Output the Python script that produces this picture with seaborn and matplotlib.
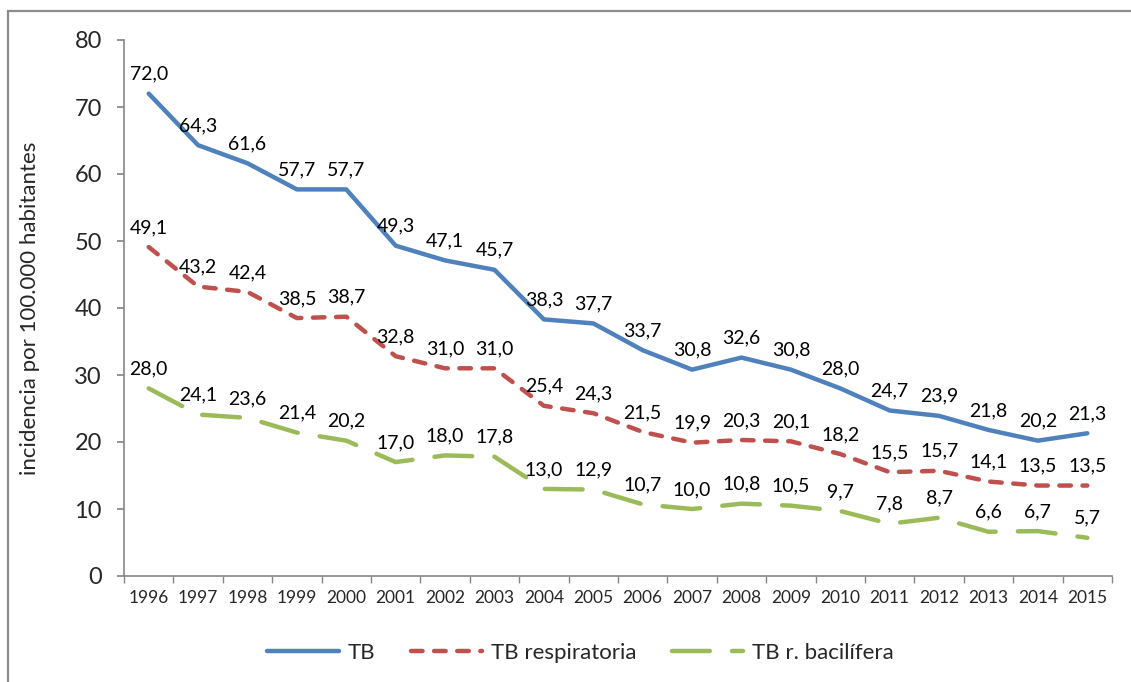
import matplotlib
matplotlib.use("Agg")
import matplotlib.pyplot as plt
import seaborn as sns
import pandas as pd
from matplotlib.patches import Rectangle

years = list(range(1996, 2016))
tb = [72.0, 64.3, 61.6, 57.7, 57.7, 49.3, 47.1, 45.7, 38.3, 37.7, 33.7, 30.8, 32.6, 30.8, 28.0, 24.7, 23.9, 21.8, 20.2, 21.3]
tb_resp = [49.1, 43.2, 42.4, 38.5, 38.7, 32.8, 31.0, 31.0, 25.4, 24.3, 21.5, 19.9, 20.3, 20.1, 18.2, 15.5, 15.7, 14.1, 13.5, 13.5]
tb_bac = [28.0, 24.1, 23.6, 21.4, 20.2, 17.0, 18.0, 17.8, 13.0, 12.9, 10.7, 10.0, 10.8, 10.5, 9.7, 7.8, 8.7, 6.6, 6.7, 5.7]
series_names = ["TB", "TB respiratoria", "TB r. bacilífera"]
ylabel = "incidencia por 100.000 habitantes"

sns.set_theme(style="white")
plt.rcParams['font.family'] = ['Lato', 'DejaVu Sans']

W, H = 1131, 682
fig = plt.figure(figsize=(W / 100, H / 100), dpi=100)
ax = fig.add_axes([124 / W, 1 - 576 / H, (1112 - 124) / W, (576 - 40) / H])

idx = list(range(len(years)))
df = pd.DataFrame({"i": idx, "TB": tb, "TB respiratoria": tb_resp, "TB r. bacilífera": tb_bac})

colors = ["#4F81BD", "#C0504D", "#9BBB59"]
dashes = [None, (2.6, 2.6), (8.5, 5.0)]
for name, col, dsh in zip(series_names, colors, dashes):
    sns.lineplot(data=df, x="i", y=name, ax=ax, color=col, linewidth=3.2, label=name)
    line = ax.lines[-1]
    line.set_solid_capstyle("round")
    line.set_dash_capstyle("round")
    if dsh is not None:
        line.set_dashes(dsh)
    for i, v in zip(idx, df[name]):
        ax.annotate(f"{v:.1f}".replace(".", ","), (i, v), xytext=(0, 11),
                    textcoords="offset pixels", ha="center", va="bottom",
                    fontsize=14, color="#000000")

ax.set_xlim(-0.5, len(years) - 0.5)
ax.set_ylim(0, 80)
ax.set_yticks(range(0, 81, 10))
ax.set_yticklabels([str(v) for v in range(0, 81, 10)], fontsize=17)
ax.set_xticks(idx)
ax.set_xticklabels([str(y) for y in years], fontsize=12.5)
ax.set_xticks([i - 0.5 for i in range(len(years) + 1)], minor=True)
ax.tick_params(axis="x", which="major", length=0, pad=10)
ax.tick_params(axis="x", which="minor", length=5, color="#868686", direction="out", bottom=True)
ax.tick_params(axis="y", length=5, color="#868686", direction="out", left=True, pad=11)
for s in ["top", "right"]:
    ax.spines[s].set_visible(False)
for s in ["left", "bottom"]:
    ax.spines[s].set_color("#868686")
    ax.spines[s].set_linewidth(1.2)
ax.set_xlabel("")
ax.set_ylabel(ylabel, fontsize=16)
ax.yaxis.set_label_coords(-0.085, 0.5)
ax.grid(False)

leg = ax.legend(loc="center", bbox_to_anchor=(0.462, -0.144), ncol=3, frameon=False,
                fontsize=16, handlelength=3.2, columnspacing=1.6, handletextpad=0.4)

fig.add_artist(Rectangle((8 / W, -0.1), 1.2, 1 - 11 / H + 0.1, transform=fig.transFigure,
                         fill=False, edgecolor="#8C8C8C", linewidth=1.6))

fig.savefig("out.png", dpi=100)
